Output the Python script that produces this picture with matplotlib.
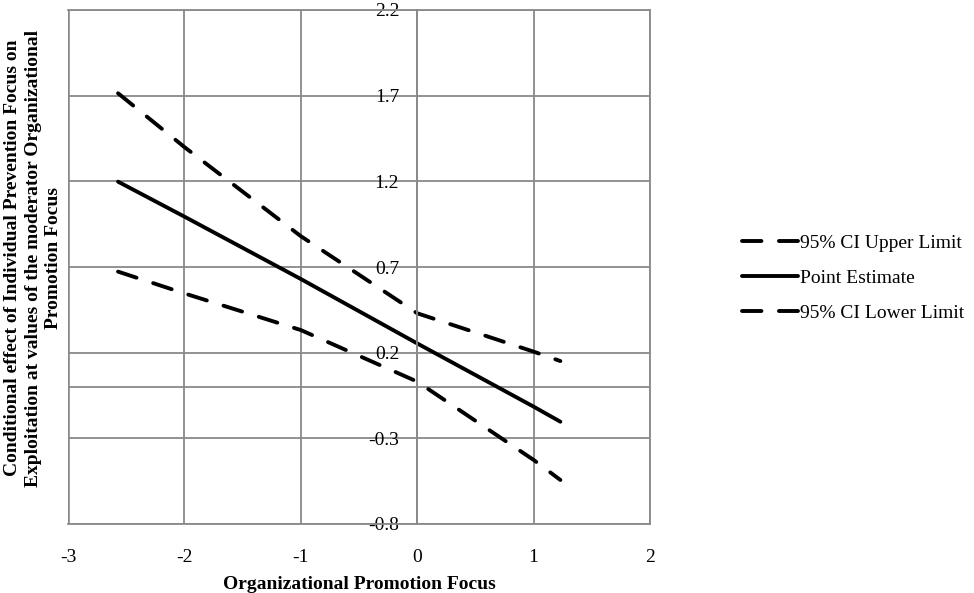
import matplotlib.pyplot as plt

# values
x_vals = [-2.57, -2.0, -1.0, 0.0, 1.0, 1.23]
upper = [1.714, 1.40, 0.88, 0.43, 0.206, 0.151]
point = [1.198, 0.994, 0.63, 0.254, -0.115, -0.203]
lower = [0.673, 0.546, 0.332, 0.031, -0.426, -0.543]

x_ticks = [-3, -2, -1, 0, 1, 2]
y_ticks = [-0.8, -0.3, 0.2, 0.7, 1.2, 1.7, 2.2]

plt.rcParams['font.family'] = ['Liberation Serif', 'DejaVu Serif']
plt.rcParams['font.size'] = 14

fig = plt.figure(figsize=(9.74, 5.93), dpi=100)
ax = fig.add_axes([68/974, 1 - 524/593, (650 - 68)/974, (524 - 10)/593])

grid_c = '#898989'
dash = (0, (5.0, 4.5))
lw = 2.8
ax.plot(x_vals, upper, color='k', lw=lw, linestyle=dash, dash_capstyle='round',
        label='95% CI Upper Limit')
ax.plot(x_vals, point, color='k', lw=lw, solid_capstyle='round', label='Point Estimate')
ax.plot(x_vals, lower, color='k', lw=lw, linestyle=dash, dash_capstyle='round',
        label='95% CI Lower Limit')

ax.set_xlim(-3, 2)
ax.set_ylim(-0.8, 2.2)
ax.set_xticks(x_ticks)
ax.set_yticks(y_ticks)
ax.set_xticklabels([str(v) for v in x_ticks])
ax.set_yticklabels(['%.1f' % v for v in y_ticks])
ax.grid(True, color=grid_c, lw=1.3)
ax.set_axisbelow(True)
ax.axhline(0, color=grid_c, lw=1.3, zorder=0.5)

# y axis crosses at x = 0, like the original
ax.spines['left'].set_position(('data', 0))
for s in ax.spines.values():
    s.set_color(grid_c)
    s.set_linewidth(1.3)
ax.tick_params(length=0)
ax.tick_params(axis='y', pad=13)
ax.tick_params(axis='x', pad=18)
# outer left border
ax.axvline(-3, color=grid_c, lw=2.6, zorder=0.5)

ax.set_xlabel('Organizational Promotion Focus', fontweight='bold', labelpad=7)
fig.text(0.034, 0.565,
         'Conditional effect of Individual Prevention Focus on\n'
         'Exploitation at values of the moderator Organizational\n'
         'Promotion Focus',
         rotation=90, ha='center', va='center', fontweight='bold',
         multialignment='center', linespacing=1.25)

fig.legend(loc='center left', bbox_to_anchor=(724/974, 1 - 278/593), frameon=False,
           handlelength=2.9, handletextpad=0.1, labelspacing=0.9)

fig.savefig('out.png', dpi=100)
